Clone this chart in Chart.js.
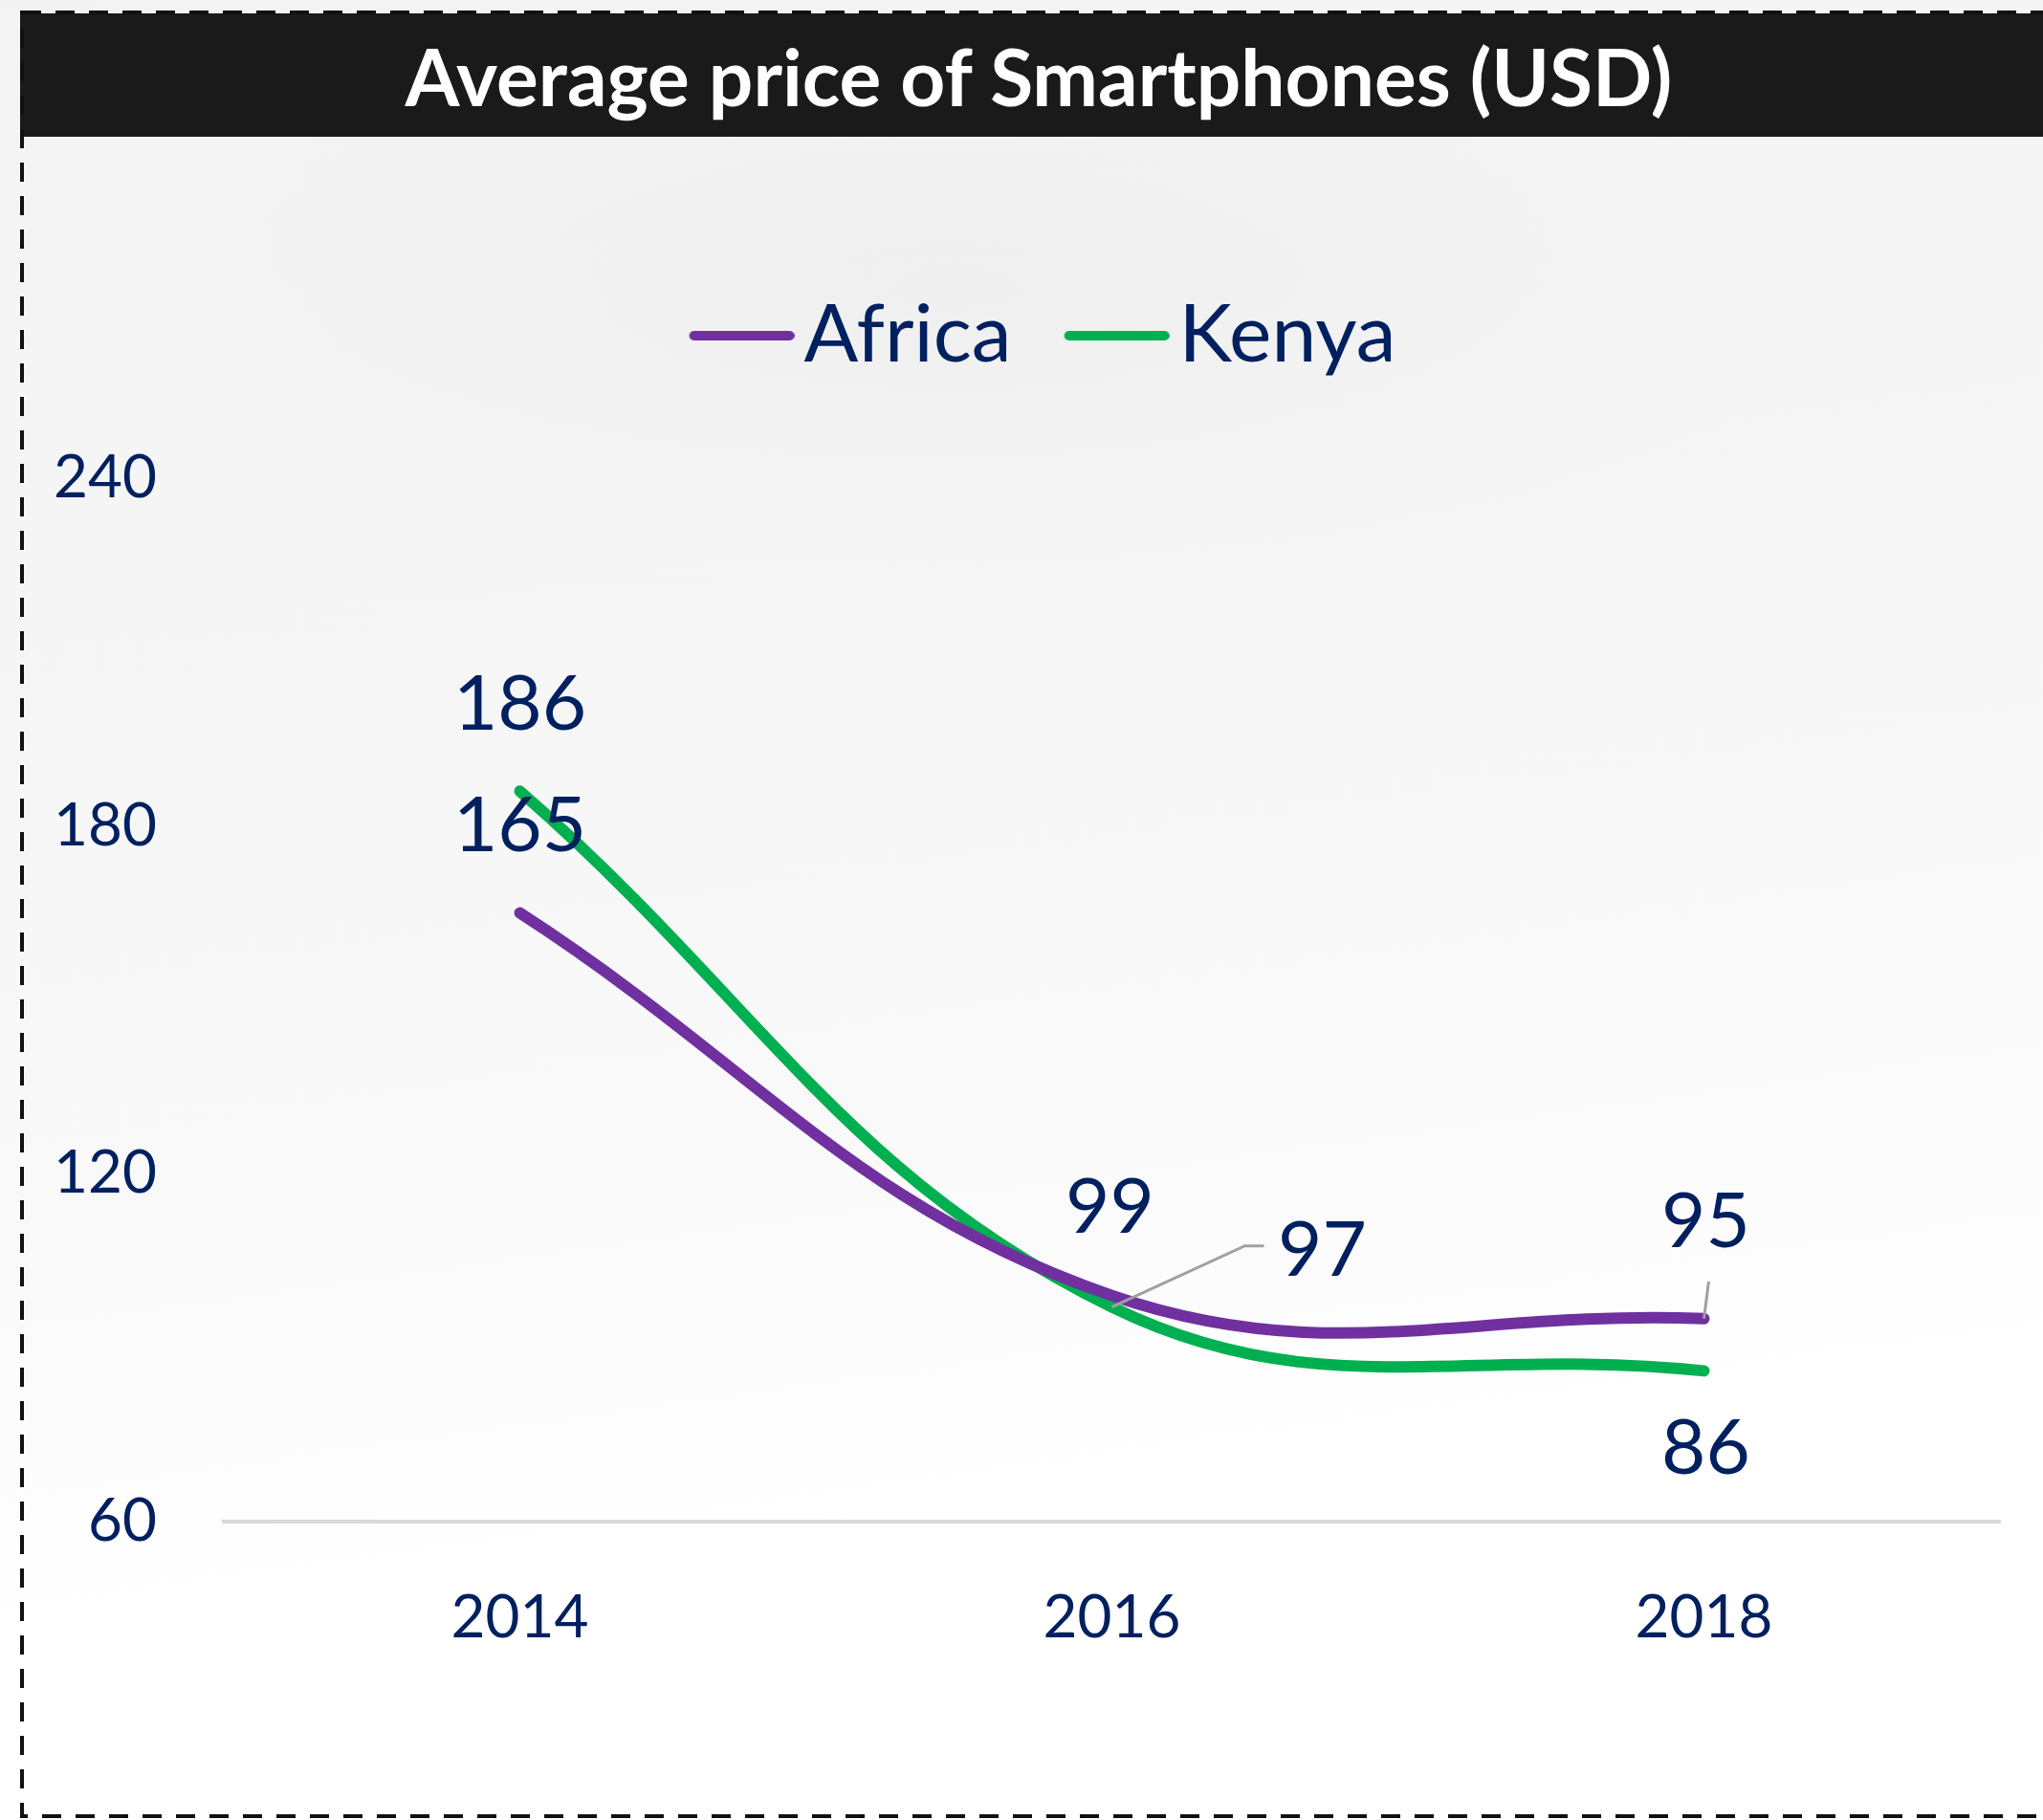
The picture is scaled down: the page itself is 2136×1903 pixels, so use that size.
<!DOCTYPE html>
<html>
<head>
<meta charset="utf-8">
<title>Average price of Smartphones (USD)</title>
<script src="https://cdn.jsdelivr.net/npm/chart.js@4.4.1/dist/chart.umd.min.js"></script>
<style>
  html, body { margin: 0; padding: 0; }
  body {
    width: 2136px; height: 1903px; position: relative; overflow: hidden;
    background:
      radial-gradient(ellipse 1300px 420px at 1000px 300px, rgba(232,232,232,0.45), rgba(255,255,255,0) 70%),
      linear-gradient(172deg, #f3f3f3 0%, #f6f6f6 35%, #f9f9f9 60%, #ffffff 78%);
  }
  #titleBar {
    position: absolute; left: 21px; top: 14px; width: 2130px; height: 129px;
    background: #1a1a1a; color: #fff;
    font: 700 82px Lato, sans-serif;
    display: flex; align-items: center; justify-content: center;
  }
  #frame { position: absolute; left: 0; top: 0; }
  #chart { position: absolute; left: 0; top: 0; width: 2180px; height: 1903px; }
</style>
</head>
<body>
<div id="titleBar">Average price of Smartphones (USD)</div>
<svg id="frame" width="2136" height="1903">
  <rect x="23" y="13" width="2140" height="1886" fill="none" stroke="#111" stroke-width="4" stroke-dasharray="20 15"/>
</svg>
<canvas id="chart" width="2180" height="1903"></canvas>
<script>
const years = ["2014", "2016", "2018"];
const africaPrice = [165, 99, 95];
const kenyaPrice = [186, 97, 86];
const yTickValues = [60, 120, 180, 240];

const TEXT = "#002060";
const PURPLE = "#7030a0";
const GREEN = "#00b050";
const FONT = "Lato, 'Open Sans', sans-serif";
const LEGEND_SIZE = 84;
const SWATCH_LEN = 110;
const SWATCH_GAP = 10;

// where each value label sits, in px from its point (plus optional leader line)
const labelSpots = {
  Africa: [
    { dx: 0, dy: -90 },
    { dx: -2, dy: -91 },
    { dx: 2, dy: -101, leader: [[0, 0], [5, -39]] }
  ],
  Kenya: [
    { dx: 0, dy: -90 },
    { dx: 220, dy: -59, leader: [[0, 0], [139, -64], [159, -64]] },
    { dx: 2, dy: 82 }
  ]
};

// legend box width so the text starts SWATCH_GAP after the line
const legendBoxW = SWATCH_LEN + SWATCH_GAP - LEGEND_SIZE / 2;

function legendSwatch(color) {
  const c = document.createElement("canvas");
  c.width = 2 * (SWATCH_LEN - legendBoxW / 2);
  c.height = 14;
  const g = c.getContext("2d");
  g.strokeStyle = color;
  g.lineWidth = 10;
  g.lineCap = "round";
  g.beginPath();
  g.moveTo(c.width - SWATCH_LEN + 5, 7);
  g.lineTo(c.width - 5, 7);
  g.stroke();
  return c;
}

const pointLabels = {
  id: "pointLabels",
  afterDatasetsDraw(chart) {
    const ctx = chart.ctx;
    ctx.save();
    chart.data.datasets.forEach((ds, di) => {
      chart.getDatasetMeta(di).data.forEach((pt, i) => {
        const spot = labelSpots[ds.label][i];
        if (spot.leader) {
          ctx.strokeStyle = "#a0a0a0";
          ctx.lineWidth = 3;
          ctx.beginPath();
          spot.leader.forEach(([lx, ly], k) => {
            if (k === 0) ctx.moveTo(pt.x + lx, pt.y + ly);
            else ctx.lineTo(pt.x + lx, pt.y + ly);
          });
          ctx.stroke();
        }
        ctx.fillStyle = TEXT;
        ctx.font = `80px ${FONT}`;
        ctx.textAlign = "center";
        ctx.textBaseline = "middle";
        ctx.fillText(ds.data[i], pt.x + spot.dx, pt.y + spot.dy);
      });
    });
    ctx.restore();
  }
};

new Chart(document.getElementById("chart"), {
  type: "line",
  data: {
    labels: years,
    datasets: [
      { label: "Africa", data: africaPrice, borderColor: PURPLE, backgroundColor: PURPLE },
      { label: "Kenya", data: kenyaPrice, borderColor: GREEN, backgroundColor: GREEN }
    ]
  },
  options: {
    responsive: false,
    animation: false,
    layout: { padding: { top: 254, left: 0, right: 0, bottom: 0 } },
    elements: {
      line: { borderWidth: 12, tension: 0.4, borderCapStyle: "round", borderJoinStyle: "round" },
      point: { radius: 0, hoverRadius: 0 }
    },
    plugins: {
      legend: {
        position: "top",
        labels: {
          color: TEXT,
          font: { family: FONT, size: LEGEND_SIZE },
          padding: 55,
          usePointStyle: true,
          pointStyleWidth: legendBoxW,
          generateLabels: chart =>
            Chart.defaults.plugins.legend.labels.generateLabels(chart).map(item => ({
              ...item,
              pointStyle: legendSwatch(chart.data.datasets[item.datasetIndex].borderColor)
            }))
        }
      },
      tooltip: { enabled: false }
    },
    scales: {
      x: {
        offset: true,
        grid: { display: false, drawTicks: false },
        border: { color: "#d9d9d9", width: 4 },
        ticks: { color: TEXT, font: { family: FONT, size: 62 }, padding: 64 },
        afterFit: s => { s.height = 312; }
      },
      y: {
        min: 60,
        max: 256, // room above the 240 tick for the legend gap
        grid: { display: false, drawTicks: false },
        border: { display: false },
        ticks: { color: TEXT, font: { family: FONT, size: 62 }, padding: 70 },
        afterBuildTicks: s => { s.ticks = yTickValues.map(v => ({ value: v })); },
        afterFit: s => { s.width = 234; }
      },
      // empty right-hand spacer so the legend centres like the original
      yRight: {
        position: "right",
        grid: { display: false, drawTicks: false },
        border: { display: false },
        ticks: { display: false },
        afterFit: s => { s.width = 89; }
      }
    }
  },
  plugins: [pointLabels]
});
</script>
</body>
</html>
